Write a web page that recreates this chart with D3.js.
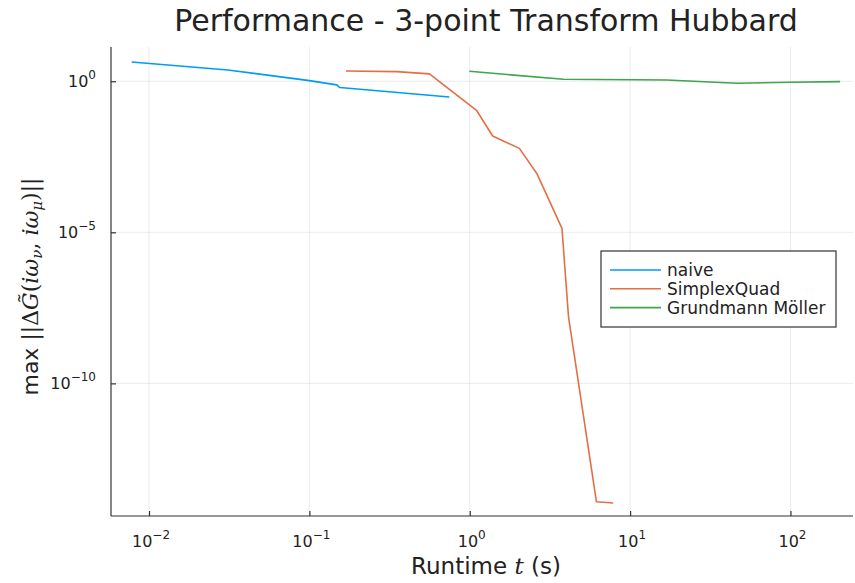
<!DOCTYPE html>
<html>
<head>
<meta charset="utf-8">
<script src="https://cdn.jsdelivr.net/npm/d3@7"></script>
<style>
  body { margin: 0; background: #fff; }
  text { font-family: "DejaVu Sans", sans-serif; fill: #222; }
</style>
</head>
<body>
<div id="main"></div>
<script>
// runtimes (s) and errors
var naiveT = [0.0078, 0.031, 0.1, 0.148, 0.155, 0.746];
var naiveErr = [4.36, 2.37, 1.05, 0.76, 0.62, 0.30];

var simplexT = [0.169, 0.351, 0.561, 1.107, 1.39, 2.04, 2.62, 3.76, 4.13, 6.17, 7.85];
var simplexErr = [2.19, 2.08, 1.75, 0.106, 0.0154, 0.006, 8.9e-4, 1.35e-5, 1.6e-8, 1.2e-14, 1.1e-14];

var gmT = [0.995, 3.84, 16.9, 46.4, 100, 204];
var gmErr = [2.14, 1.16, 1.10, 0.86, 0.93, 0.97];

var seriesNames = ["naive", "SimplexQuad", "Grundmann Möller"];
var colors = ["#009AFA", "#E36F47", "#3EA44E"];

var xTickExp = [-2, -1, 0, 1, 2];
var yTickExp = [0, -5, -10];

var W = 855, H = 583;
var margin = {top: 47, right: 2, bottom: 67, left: 111};

var svg = d3.select("#main").append("svg")
    .attr("width", W)
    .attr("height", H);

var x = d3.scaleLog()
    .domain([Math.pow(10, -2.237), Math.pow(10, 2.39)])
    .range([margin.left, W - margin.right]);

var y = d3.scaleLog()
    .domain([Math.pow(10, -14.39), Math.pow(10, 1.134)])
    .range([H - margin.bottom, margin.top]);

var xTicks = xTickExp.map(function(e){ return Math.pow(10, e); });
var yTicks = yTickExp.map(function(e){ return Math.pow(10, e); });

// grid
svg.append("g").selectAll("line").data(xTicks).enter().append("line")
    .attr("x1", function(d){ return x(d); }).attr("x2", function(d){ return x(d); })
    .attr("y1", margin.top).attr("y2", H - margin.bottom)
    .attr("stroke", "#000").attr("stroke-opacity", 0.08).attr("stroke-width", 1);

svg.append("g").selectAll("line").data(yTicks).enter().append("line")
    .attr("y1", function(d){ return y(d); }).attr("y2", function(d){ return y(d); })
    .attr("x1", margin.left).attr("x2", W - margin.right)
    .attr("stroke", "#000").attr("stroke-opacity", 0.08).attr("stroke-width", 1);

// axes (ticks pointing inward, labels drawn separately for superscripts)
var xAxis = d3.axisTop(x).tickValues(xTicks).tickSize(5).tickFormat("");
var yAxis = d3.axisRight(y).tickValues(yTicks).tickSize(5).tickFormat("");

svg.append("g")
    .attr("transform", "translate(0," + (H - margin.bottom) + ")")
    .call(xAxis)
    .call(function(g){ g.select(".domain").attr("d", "M" + margin.left + ",0H" + (W - margin.right)); });

svg.append("g")
    .attr("transform", "translate(" + margin.left + ",0)")
    .call(yAxis)
    .call(function(g){ g.select(".domain").attr("d", "M0," + margin.top + "V" + (H - margin.bottom)); });

svg.selectAll(".domain, .tick line").attr("stroke", "#333").attr("stroke-width", 1.2);

var powLabel = function(sel, e){
  sel.append("tspan").text("10");
  sel.append("tspan").attr("dy", -8).attr("font-size", 12)
    .text(e < 0 ? "\u2212" + (-e) : String(e));
};

svg.append("g").selectAll("text").data(xTickExp).enter().append("text")
    .attr("x", function(d){ return x(Math.pow(10, d)) + 2; })
    .attr("y", 547)
    .attr("text-anchor", "middle")
    .attr("font-size", 16)
    .each(function(d){ powLabel(d3.select(this), d); });

svg.append("g").selectAll("text").data(yTickExp).enter().append("text")
    .attr("x", 96)
    .attr("y", function(d){ return y(Math.pow(10, d)) + 6; })
    .attr("text-anchor", "end")
    .attr("font-size", 16)
    .each(function(d){ powLabel(d3.select(this), d); });

// lines
var line = d3.line()
    .x(function(d){ return x(d[0]); })
    .y(function(d){ return y(d[1]); });

var series = [
  d3.zip(naiveT, naiveErr),
  d3.zip(simplexT, simplexErr),
  d3.zip(gmT, gmErr)
];

svg.append("g").selectAll("path").data(series).enter().append("path")
    .attr("d", line)
    .attr("fill", "none")
    .attr("stroke", function(d, i){ return colors[i]; })
    .attr("stroke-width", 1.6)
    .attr("stroke-linejoin", "round");

// title
svg.append("text")
    .attr("x", (margin.left + W - margin.right) / 2 + 4)
    .attr("y", 31)
    .attr("text-anchor", "middle")
    .attr("font-size", 30)
    .text("Performance - 3-point Transform Hubbard");

// x label
var xl = svg.append("text")
    .attr("x", (margin.left + W - margin.right) / 2 + 4)
    .attr("y", 574)
    .attr("text-anchor", "middle")
    .attr("font-size", 23);
xl.append("tspan").text("Runtime ");
xl.append("tspan").attr("font-family", "DejaVu Serif").attr("font-style", "italic").text("t");
xl.append("tspan").text(" (s)");

// y label
var yl = svg.append("text")
    .attr("transform", "translate(38," + ((margin.top + H - margin.bottom) / 2 + 5) + ") rotate(-90)")
    .attr("text-anchor", "middle")
    .attr("font-size", 22);
var serif = function(t, it){
  return yl.append("tspan").attr("font-family", "DejaVu Serif")
    .attr("font-style", it ? "italic" : "normal").text(t);
};
yl.append("tspan").text("max ");
serif("||\u0394", false);
serif("G\u0303", true);
serif("(", false);
serif("i\u03C9", true);
serif("\u03BD", true).attr("font-size", 15).attr("dy", 4);
serif(", ", false).attr("dy", -4);
serif("i\u03C9", true);
serif("\u03BC", true).attr("font-size", 15).attr("dy", 4);
serif(")||", false).attr("dy", -4);

// legend
var lg = svg.append("g").attr("transform", "translate(601,251)");
lg.append("rect")
    .attr("width", 235).attr("height", 76)
    .attr("fill", "#fff").attr("stroke", "#333").attr("stroke-width", 1.2);
var items = lg.selectAll(".item").data(seriesNames).enter().append("g")
    .attr("class", "item")
    .attr("transform", function(d, i){ return "translate(0," + (19 + i * 18.8) + ")"; });
items.append("line")
    .attr("x1", 9).attr("x2", 60)
    .attr("stroke", function(d, i){ return colors[i]; })
    .attr("stroke-width", 1.6);
items.append("text")
    .attr("x", 66).attr("y", 6)
    .attr("font-size", 17)
    .text(function(d){ return d; });
</script>
</body>
</html>
